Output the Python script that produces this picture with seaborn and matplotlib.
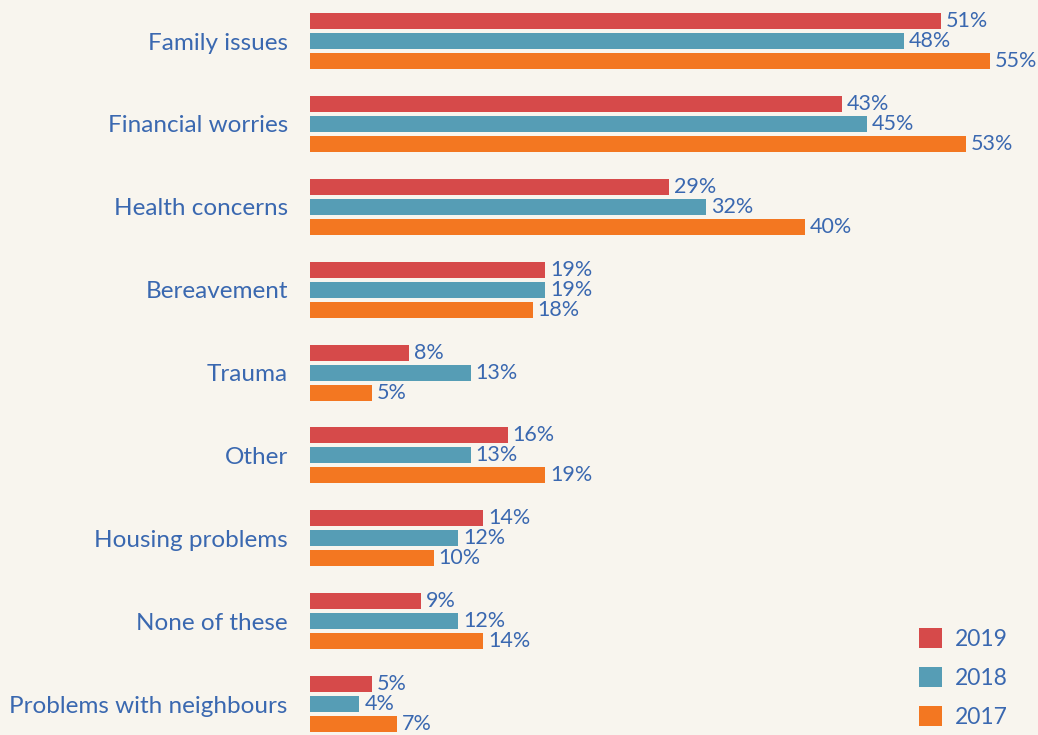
import pandas as pd
import matplotlib.pyplot as plt
import seaborn as sns

categories = ["Family issues", "Financial worries", "Health concerns", "Bereavement",
              "Trauma", "Other", "Housing problems", "None of these",
              "Problems with neighbours"]
years = ["2019", "2018", "2017"]
values_2019 = [51, 43, 29, 19, 8, 16, 14, 9, 5]
values_2018 = [48, 45, 32, 19, 13, 13, 12, 12, 4]
values_2017 = [55, 53, 40, 18, 5, 19, 10, 14, 7]

colors = ["#d64a4a", "#569db5", "#f37721"]
text_color = "#3a68b0"
bg = "#f8f5ee"

rows = []
for yr, vals in zip(years, [values_2019, values_2018, values_2017]):
    for cat, v in zip(categories, vals):
        rows.append({"category": cat, "year": yr, "value": v})
df = pd.DataFrame(rows)

sns.set_style("white")
plt.rcParams["font.family"] = ["Lato", "DejaVu Sans"]

fig = plt.figure(figsize=(10.38, 7.35), dpi=100, facecolor=bg)
ax = fig.add_axes([310 / 1038, 0, 1 - 310 / 1038, 1])
ax.set_facecolor(bg)

sns.barplot(data=df, y="category", x="value", hue="year", hue_order=years,
            order=categories, palette=colors, width=0.724, gap=0.2,
            saturation=1, orient="h", linewidth=0, ax=ax)

for cont in ax.containers:
    ax.bar_label(cont, labels=[f"{int(b.get_width())}%" for b in cont],
                 padding=3.5, color=text_color, fontsize=15.5)

ax.set_xlim(0, 58.85)
ax.set_ylim(8.374, -0.495)
ax.set_xlabel("")
ax.set_ylabel("")
ax.set_xticks([])
ax.tick_params(axis="y", length=0, pad=16, labelsize=17.5, labelcolor=text_color)
for s in ax.spines.values():
    s.set_visible(False)

leg = ax.legend(loc="upper left", bbox_to_anchor=(919 / 1038, 1 - 628 / 735),
                bbox_transform=fig.transFigure, frameon=False, fontsize=16.5,
                handlelength=1.0, handleheight=0.95, handletextpad=0.55,
                labelspacing=0.75, borderpad=0, borderaxespad=0)
for t in leg.get_texts():
    t.set_color(text_color)

fig.savefig("out.png", dpi=100, facecolor=bg)
